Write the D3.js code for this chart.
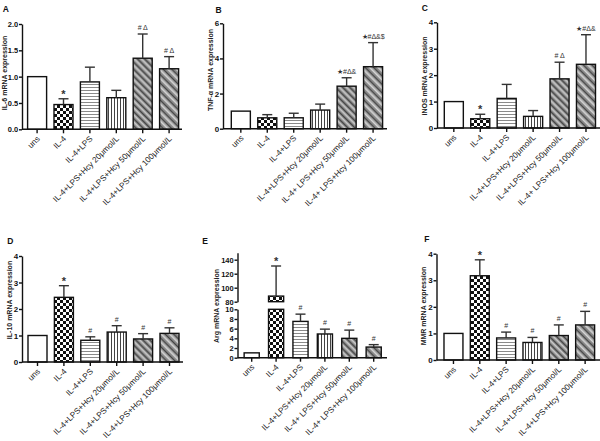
<!DOCTYPE html>
<html><head><meta charset="utf-8">
<script src="https://cdn.jsdelivr.net/npm/d3@7"></script>
<style>body{margin:0;background:#fff} svg{display:block}</style>
</head><body><svg id="c" width="600" height="441"></svg>
<script>
// ---------------- DATA ----------------
const labelsA = ["uns","IL-4","IL-4+LPS","IL-4+LPS+Hcy 20μmol/L","IL-4+LPS+Hcy 50μmol/L","IL-4+LPS+Hcy 100μmol/L"];
const labelsB = ["uns","IL-4","IL-4+LPS","IL-4+LPS+Hcy 20μmol/L","IL-4+ LPS+Hcy 50μmol/L","IL-4+ LPS+Hcy 100μmol/L"];
const labelsC = ["uns","IL-4","IL-4+LPS","IL-4+LPS+Hcy 20μmol/L","IL-4+LPS+Hcy 50μmol/L","IL-4+ LPS+Hcy 100μmol/L"];
const labelsD = ["uns","IL-4","IL-4+LPS","IL-4+LPS+Hcy 20μmol/L","IL-4+LPS+Hcy 50μmol/L","IL-4+LPS+Hcy 100μmol/L"];
const labelsE = ["uns","IL-4","IL-4+LPS","IL-4+LPS+Hcy 20μmol/L","IL-4+ LPS+Hcy 50μmol/L","IL-4+ LPS+Hcy 100μmol/L"];
const labelsF = ["uns","IL-4","IL-4+LPS","IL-4+LPS+Hcy 20μmol/L","IL-4+LPS+Hcy 50μmol/L","IL-4+LPS+Hcy 100μmol/L"];

const il6Mean  = [1.0, 0.47, 0.90, 0.60, 1.35, 1.15];
const il6Sem   = [0, 0.11, 0.28, 0.14, 0.46, 0.23];
const tnfMean  = [1.0, 0.62, 0.62, 1.06, 2.42, 3.53];
const tnfSem   = [0, 0.18, 0.26, 0.34, 0.48, 1.37];
const inosMean = [1.0, 0.35, 1.12, 0.44, 1.86, 2.41];
const inosSem  = [0, 0.17, 0.53, 0.22, 0.63, 1.12];
const il10Mean = [1.0, 2.44, 0.82, 1.13, 0.87, 1.08];
const il10Sem  = [0, 0.44, 0.13, 0.24, 0.20, 0.21];
const argMean  = [1.0, 88, 7.5, 4.9, 4.0, 2.2];
const argSem   = [0, 43, 1.5, 1.0, 1.7, 0.5];
const mmrMean  = [1.0, 3.17, 0.83, 0.66, 0.92, 1.32];
const mmrSem   = [0, 0.60, 0.22, 0.19, 0.40, 0.51];

const marksA = ["", "*", "", "", "# Δ", "# Δ"];
const marksB = ["", "", "", "", "★#Δ&", "★#Δ&$"];
const marksC = ["", "*", "", "", "# Δ", "★#Δ&"];
const marksD = ["", "*", "#", "#", "#", "#"];
const marksE = ["", "*", "#", "#", "#", "#"];
const marksF = ["", "*", "#", "#", "#", "#"];

const ticksA = [0, 0.5, 1.0, 1.5, 2.0];
const ticksB = [0, 2, 4, 6];
const ticksC = [0, 1, 2, 3, 4];
const ticksD = [0, 1, 2, 3, 4];
const ticksElow = [0, 2, 4, 6, 8, 10];
const ticksEhigh = [80, 100, 120, 140];
const ticksF = [0, 1, 2, 3, 4];

const titles = ["IL-6 mRNA expression","TNF-α mRNA expression","iNOS mRNA expression","IL-10 mRNA expression","Arg mRNA expression","MMR mRNA expression"];
const letters = ["A","B","C","D","E","F"];

// ---------------- STYLE / LAYOUT ----------------
const FONT = "'Liberation Sans', Arial, Helvetica, sans-serif";
const svg = d3.select("#c");
const defs = svg.append("defs");

function pat(id, w, h, build, transform) {
  const p = defs.append("pattern").attr("id", id).attr("patternUnits", "userSpaceOnUse")
    .attr("width", w).attr("height", h);
  if (transform) p.attr("patternTransform", transform);
  build(p);
}
pat("pNone", 4, 4, p => p.append("rect").attr("width", 4).attr("height", 4).attr("fill", "#fff"));
pat("pChk", 6, 6, p => {
  p.append("rect").attr("width", 6).attr("height", 6).attr("fill", "#fff");
  p.append("rect").attr("width", 3).attr("height", 3).attr("fill", "#111");
  p.append("rect").attr("x", 3).attr("y", 3).attr("width", 3).attr("height", 3).attr("fill", "#111");
});
pat("pH", 4, 3, p => {
  p.append("rect").attr("width", 4).attr("height", 3).attr("fill", "#fff");
  p.append("rect").attr("width", 4).attr("height", 1).attr("fill", "#8a8a8a");
});
pat("pV", 3, 4, p => {
  p.append("rect").attr("width", 3).attr("height", 4).attr("fill", "#fff");
  p.append("rect").attr("width", 1).attr("height", 4).attr("fill", "#444");
});
pat("pD50", 5, 5, p => {
  p.append("rect").attr("width", 5).attr("height", 5).attr("fill", "#8a8a8a");
  p.append("rect").attr("width", 1.2).attr("height", 5).attr("fill", "#444");
  p.append("rect").attr("x", 2.5).attr("width", 1.4).attr("height", 5).attr("fill", "#cfcfcf");
}, "rotate(-45)");
pat("pD100", 6, 6, p => {
  p.append("rect").attr("width", 6).attr("height", 6).attr("fill", "#909090");
  p.append("rect").attr("width", 1.2).attr("height", 6).attr("fill", "#444");
  p.append("rect").attr("x", 3).attr("width", 1.6).attr("height", 6).attr("fill", "#d4d4d4");
}, "rotate(-45)");
const fills = ["url(#pNone)","url(#pChk)","url(#pH)","url(#pV)","url(#pD50)","url(#pD100)"];

const panels = [
  {labels: labelsA, mean: il6Mean, sem: il6Sem, marks: marksA, fmt: d3.format(".1f"), tf: 7.5,
   segs: [{domain:[0,2], range:[129.3,24], ticks: ticksA}],
   axisX: 22, bx: [23.9, 182.3], xEnd: 182, pad: 0.28, title: [4.5, 73], letter: [2.7, 11.5]},
  {labels: labelsB, mean: tnfMean, sem: tnfSem, marks: marksB, fmt: d3.format("d"), tf: 8,
   segs: [{domain:[0,6], range:[128.7,23.3], ticks: ticksB}],
   axisX: 223, bx: [227.6, 386.3], xEnd: 387, pad: 0.28, title: [210.5, 70], letter: [215.5, 12.7]},
  {labels: labelsC, mean: inosMean, sem: inosSem, marks: marksC, fmt: d3.format("d"), tf: 8,
   segs: [{domain:[0,4], range:[128,22.3], ticks: ticksC}],
   axisX: 437, bx: [440.6, 599.2], xEnd: 600, pad: 0.28, title: [424.5, 76], letter: [421.7, 10.5]},
  {labels: labelsD, mean: il10Mean, sem: il10Sem, marks: marksD, fmt: d3.format("d"), tf: 8,
   segs: [{domain:[0,4], range:[362,256], ticks: ticksD}],
   axisX: 22, bx: [24.3, 182.7], xEnd: 183, pad: 0.28, title: [10, 300], letter: [7.3, 244]},
  {labels: labelsE, mean: argMean, sem: argSem, marks: marksE, fmt: d3.format("d"), tf: 7.5,
   segs: [{domain:[0,10], range:[357.7,309.3], ticks: ticksElow},
          {domain:[80,150], range:[301.7,252.7], ticks: ticksEhigh}],
   axisX: 237.5, bx: [239.5, 385.9], xEnd: 387, pad: 0.38, title: [217, 306], letter: [202.3, 244]},
  {labels: labelsF, mean: mmrMean, sem: mmrSem, marks: marksF, fmt: d3.format("d"), tf: 8,
   segs: [{domain:[0,4], range:[360,253.7], ticks: ticksF}],
   axisX: 436.5, bx: [440.3, 598.3], xEnd: 600, pad: 0.28, title: [424, 306], letter: [424.3, 242.3]}
];

panels.forEach((P, pi) => {
  const g = svg.append("g");
  const x = d3.scaleBand().domain(P.labels).range(P.bx).paddingInner(P.pad).paddingOuter(P.pad / 2);
  const scales = P.segs.map(s => d3.scaleLinear().domain(s.domain).range(s.range));
  const y0 = P.segs[0].range[0];

  // bars
  P.labels.forEach((lab, i) => {
    const v = P.mean[i];
    P.segs.forEach((s, si) => {
      if (v > s.domain[0]) {
        const top = scales[si](Math.min(v, s.domain[1]));
        const bot = scales[si](s.domain[0]);
        g.append("rect").attr("x", x(lab)).attr("y", top).attr("width", x.bandwidth())
          .attr("height", bot - top).attr("fill", fills[i]).attr("stroke", "#111").attr("stroke-width", 1.4);
      }
    });
    // error bar (upper whisker)
    const si = P.segs.findIndex(s => v >= s.domain[0] && v <= s.domain[1]);
    const sc = scales[si];
    const cx = x(lab) + x.bandwidth() / 2;
    const errTop = sc(v + P.sem[i]);
    if (P.sem[i] > 0) {
      g.append("line").attr("x1", cx).attr("x2", cx).attr("y1", sc(v)).attr("y2", errTop)
        .attr("stroke", "#333").attr("stroke-width", 1.4);
      g.append("line").attr("x1", cx - 5).attr("x2", cx + 5).attr("y1", errTop).attr("y2", errTop)
        .attr("stroke", "#333").attr("stroke-width", 1.4);
    }
    const m = P.marks[i];
    if (m) {
      const isStar = m === "*";
      g.append("text").attr("x", cx).attr("y", isStar ? errTop - 1 : errTop - 4)
        .attr("text-anchor", "middle").attr("font-family", FONT)
        .attr("font-size", isStar ? 11 : 7).attr("font-weight", isStar ? "bold" : "normal")
        .attr("fill", "#333").text(m);
    }
  });

  // y axis segments
  P.segs.forEach((s, si) => {
    const ax = g.append("g").attr("transform", `translate(${P.axisX},0)`)
      .call(d3.axisLeft(scales[si]).tickValues(s.ticks).tickFormat(P.fmt).tickSize(3).tickSizeOuter(0).tickPadding(0.8));
    ax.select(".domain").attr("stroke", "#111").attr("stroke-width", 1.4);
    ax.selectAll(".tick line").attr("stroke", "#111").attr("stroke-width", 1.4);
    ax.selectAll("text").attr("font-family", FONT).attr("font-size", P.tf).attr("font-weight", "bold").attr("fill", "#111");
  });

  // x axis
  g.append("line").attr("x1", P.axisX).attr("x2", P.xEnd).attr("y1", y0).attr("y2", y0)
    .attr("stroke", "#111").attr("stroke-width", 1.4);
  const xa = g.append("g").attr("transform", `translate(0,${y0})`)
    .call(d3.axisBottom(x).tickSize(4).tickSizeOuter(0));
  xa.select(".domain").remove();
  xa.selectAll(".tick line").attr("stroke", "#111").attr("stroke-width", 1.4);
  xa.selectAll("text").attr("font-family", FONT).attr("font-size", 8.2).attr("fill", "#1a1a1a")
    .attr("text-anchor", "end").attr("y", 0).attr("dy", 0)
    .attr("transform", "translate(3.2,10) rotate(-45)");

  // title
  g.append("text").attr("transform", `translate(${P.title[0]},${P.title[1]}) rotate(-90)`)
    .attr("text-anchor", "middle").attr("dy", "0.35em").attr("font-family", FONT)
    .attr("font-size", 7).attr("font-weight", "bold").attr("fill", "#222").text(titles[pi]);
  // letter
  g.append("text").attr("x", P.letter[0]).attr("y", P.letter[1]).attr("font-family", FONT)
    .attr("font-size", 8.5).attr("font-weight", "bold").attr("fill", "#111").text(letters[pi]);
});
</script></body></html>
